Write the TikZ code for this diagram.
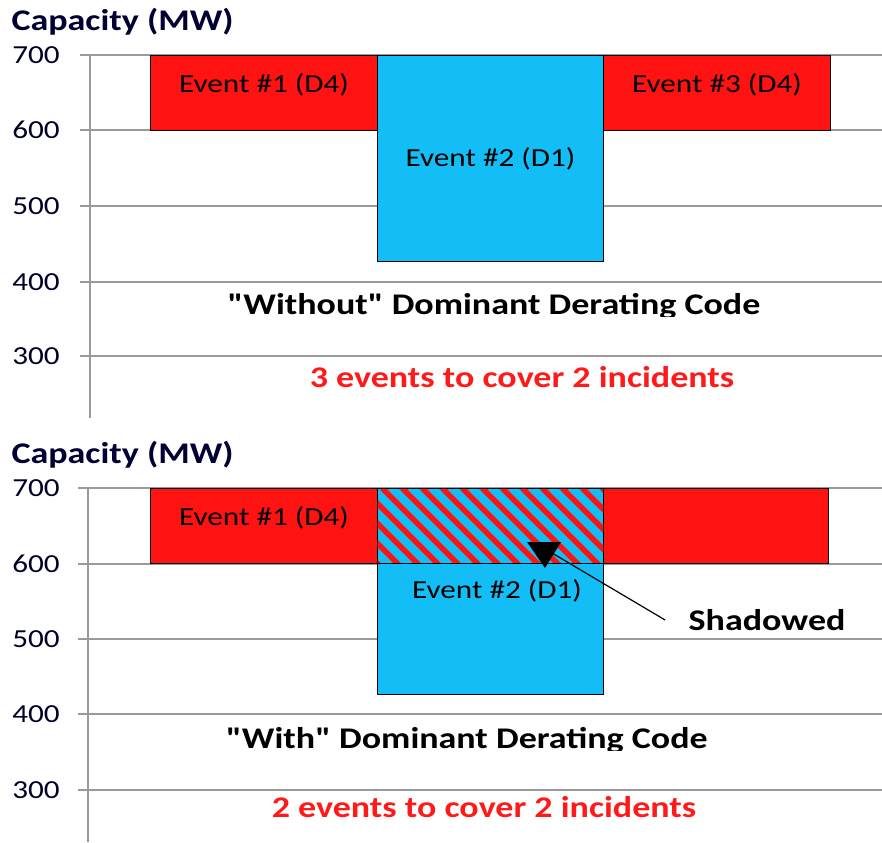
\documentclass[tikz,border=0pt]{standalone}
\usepackage{fontspec}
\setmainfont{Carlito}[FakeStretch=1.2,Ligatures=TeXOff]
\definecolor{evred}{HTML}{FF1212}
\definecolor{evblue}{HTML}{12BEF5}
\definecolor{txtred}{HTML}{FF1A1A}
\definecolor{gridgray}{HTML}{9A9A9A}
\begin{document}
\begin{tikzpicture}[x=1pt,y=-1pt,line join=round,
	grid/.style={gridgray,line width=1.6pt},
	evbox/.style={draw=black,line width=1pt,anchor=north west,inner sep=0pt,font=\fontsize{26}{28}\selectfont},
	lift/.style={text depth=20pt},
	tick/.style={font=\fontsize{26}{28}\selectfont,text=black!85!blue},
	ytitle/.style={font=\fontsize{30}{32}\selectfont\bfseries,text=black!80!blue,anchor=west},
	codetext/.style={font=\fontsize{30}{32}\selectfont\bfseries},
	countred/.style={font=\fontsize{30}{32}\selectfont\bfseries,text=txtred}]
	\useasboundingbox (0,0) rectangle (882,842);
	% upper chart: without dominant derating code
	\node[ytitle] (capA) at (8,22) {Capacity (MW)};
	\foreach \v/\y in {700/55,600/130,500/206,400/282,300/356}{
		\draw[grid] (80,\y) -- (882,\y);
		\node[tick] (tA\v) at (36,\y) {\v};
	}
	\draw[grid] (90,55) -- (90,418);
	\node[evbox,fill=evblue,minimum width=226pt,minimum height=206pt] (evAtwo) at (377,55) {Event \#2 (D1)};
	\node[evbox,lift,fill=evred,minimum width=227pt,minimum height=75pt] (evAone) at (150,55) {Event \#1 (D4)};
	\node[evbox,lift,fill=evred,minimum width=227pt,minimum height=75pt] (evAthree) at (603,55) {Event \#3 (D4)};
	\begin{scope}
		\clip (150,284) rectangle (840,316);
		\node[codetext] (codeA) at (494,306) {"Without" Dominant Derating Code};
	\end{scope}
	\node[countred] (cntA) at (522,377) {3 events to cover 2 incidents};
	% lower chart: with dominant derating code
	\node[ytitle] (capB) at (8,455) {Capacity (MW)};
	\foreach \v/\y in {700/488,600/564,500/639,400/714,300/790}{
		\draw[grid] (78,\y) -- (882,\y);
		\node[tick] (tB\v) at (36,\y) {\v};
	}
	\draw[grid] (88,488) -- (88,842);
	\node[evbox,fill=evblue,minimum width=226pt,minimum height=206pt] (evBtwo) at (377,488) {};
	\node[anchor=north,font=\fontsize{26}{28}\selectfont] (evBtwolab) at (497,576) {Event \#2 (D1)};
	\node[evbox,lift,fill=evred,minimum width=227pt,minimum height=75pt] (evBone) at (150,488) {Event \#1 (D4)};
	\node[evbox,fill=evred,minimum width=225pt,minimum height=75pt] (evBthree) at (603,488) {};
	% shadowed part of event #2
	\begin{scope}
		\clip (377,488) rectangle (603,563);
		\fill[evblue] (377,488) rectangle (603,563);
		\foreach \k in {-5,...,12}
			\draw[evred,line width=5.5pt] (382+20*\k,488) -- ++(80,80);
	\end{scope}
	\node[evbox,minimum width=226pt,minimum height=75pt] (shade) at (377,488) {};
	\begin{scope}
		\clip (150,718) rectangle (840,750);
		\node[codetext] (codeB) at (467,740) {"With" Dominant Derating Code};
	\end{scope}
	\node[countred] (cntB) at (484,807) {2 events to cover 2 incidents};
	\node[codetext] (shad) at (767,620) {Shadowed};
	\coordinate (tip) at (545,568);
	\draw[line width=1.2pt] (shad.west) ++(-20,0) coordinate (tail) -- (552,553);
	\fill (tip) -- (527,542) -- (561,542) -- cycle;
\end{tikzpicture}
\end{document}
